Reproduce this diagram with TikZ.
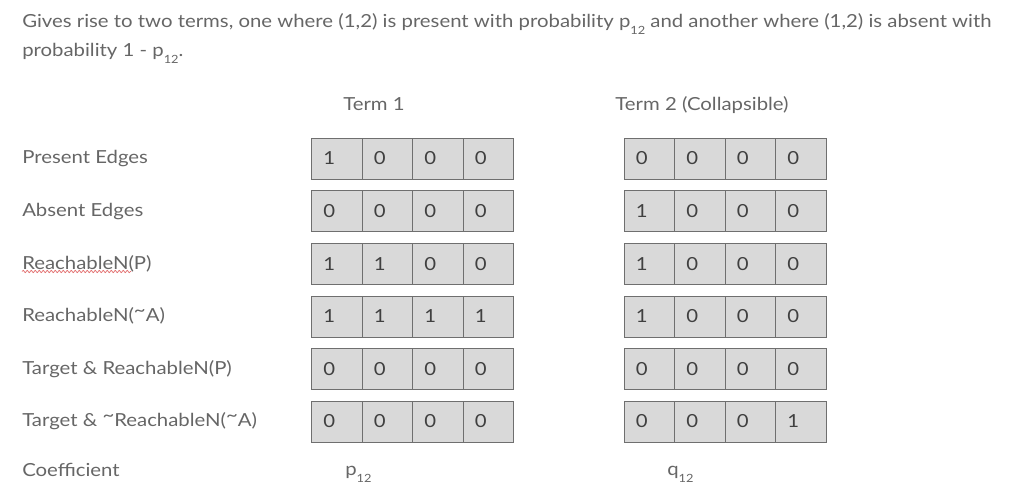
\documentclass[tikz,border=0pt]{standalone}
\usepackage{fontspec}
\setmainfont{Lato}[FakeStretch=1.13]
\usetikzlibrary{positioning,decorations.pathmorphing}

\definecolor{gristexte}{HTML}{666666}
\definecolor{griscase}{HTML}{D9D9D9}
\definecolor{grisbord}{HTML}{6F6F6F}
\definecolor{rougefaute}{HTML}{E06666}
\newcommand{\bas}[1]{\raisebox{-0.8ex}{\fontsize{8.5}{8.5}\selectfont #1}}
\newcommand{\vague}{\raisebox{0.6ex}{\textasciitilde}}

\tikzset{texte/.style={text=gristexte,inner sep=0pt,font=\fontsize{13.5}{16}\selectfont},
case/.style={draw=grisbord,fill=griscase,anchor=west,minimum width=37.9pt,minimum height=30.75pt,
  inner xsep=9pt,inner ysep=0pt,text width=19.9pt,align=left,text=black!75,font=\fontsize{13.5}{16}\selectfont}}

\begin{document}
\begin{tikzpicture}[x=0.75pt,y=-0.75pt]
\useasboundingbox (0,0) rectangle (1013,501);
% en-tete
\node [texte,anchor=base west] (entete1) at (22,27) {Gives rise to two terms, one where (1,2) is present with probability p\bas{12} and another where (1,2) is absent with};
\node [texte,anchor=base west] (entete2) at (22,56) {probability 1 - p\bas{12}.};
\node [texte,anchor=base] (terme1) at (374,110) {Term 1};
\node [texte,anchor=base] (terme2) at (702,110) {Term 2 (Collapsible)};

% lignes : nom / y / etiquette / terme 1 / terme 2
\foreach \ligne/\y/\nom/\a/\b in {
  1/158.5/{Present Edges}/{1,0,0,0}/{0,0,0,0},
  2/211.1/{Absent Edges}/{0,0,0,0}/{1,0,0,0},
  3/263.7/{ReachableN(P)}/{1,1,0,0}/{1,0,0,0},
  4/316.3/{ReachableN(\vague A)}/{1,1,1,1}/{1,0,0,0},
  5/368.9/{Target \& ReachableN(P)}/{0,0,0,0}/{0,0,0,0},
  6/421.5/{Target \& \vague ReachableN(\vague A)}/{0,0,0,0}/{0,0,0,1}}
{
  \node [texte,anchor=west] (etiq\ligne) at (22,\y) {\nom};
  \foreach \v [count=\j] in \a
    \node [case] (ta-\ligne-\j) at (311+50.5*\j-50.5,\y) {\v};
  \foreach \v [count=\j] in \b
    \node [case] (tb-\ligne-\j) at (623.5+50.5*\j-50.5,\y) {\v};
}

% coefficients
\node [texte,anchor=west] (coef) at (22,470) {Coefficient};
\node [texte,anchor=base west] (coefa) at (345,475) {p\bas{12}};
\node [texte,anchor=base west] (coefb) at (667,475) {q\bas{12}};

% soulignement de la correction orthographique
\draw [rougefaute,line width=0.5pt,decorate,decoration={snake,amplitude=0.9pt,segment length=3pt}]
  (22,271.5) -- (131,271.5);
\end{tikzpicture}
\end{document}
